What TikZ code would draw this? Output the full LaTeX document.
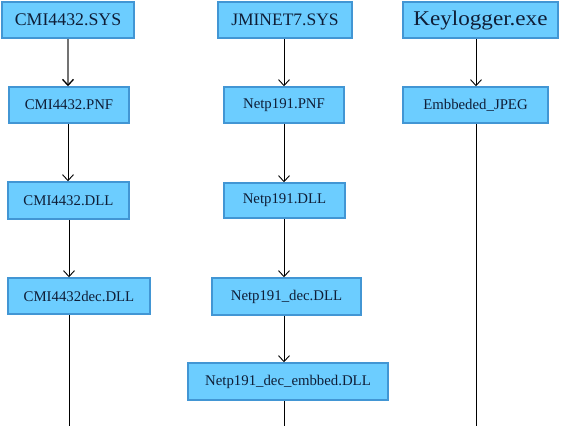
\documentclass[tikz,border=0pt]{standalone}
\usepackage{fontspec}
\setmainfont{Liberation Serif}
\newfontfamily\klfont[FakeStretch=1.1]{Liberation Serif}
\usetikzlibrary{arrows.meta}
\definecolor{boxfill}{RGB}{108,205,255}
\definecolor{boxdraw}{RGB}{66,150,212}
\definecolor{darktext}{RGB}{15,30,55}
\definecolor{greyline}{RGB}{115,115,115}
\tikzset{
  box/.style={draw=boxdraw, fill=boxfill, line width=1.5pt, inner sep=0pt, text=darktext, font=\fontsize{14.8}{16}\selectfont},
  bigbox/.style={box, font=\fontsize{17.8}{20}\selectfont},
  arr/.style={-{Straight Barb[length=6pt,width=11pt]}, line width=0.9pt},
  greyarr/.style={-{Straight Barb[length=6pt,width=11pt,color=black]}, line width=1.3pt, draw=greyline},
  tail/.style={line width=0.9pt}
}
\begin{document}
\begin{tikzpicture}[x=1pt,y=-1pt]
\useasboundingbox (0,0) rectangle (561,426);
% column 1
\node[bigbox, minimum width=132pt, minimum height=36pt] (s1) at (68,20) {CMI4432.SYS};
\node[box, minimum width=120pt, minimum height=36pt] (p1) at (69,105) {CMI4432.PNF};
\node[box, minimum width=121pt, minimum height=37pt] (d1) at (68.5,200.5) {CMI4432.DLL};
\node[box, minimum width=142pt, minimum height=36pt] (e1) at (79,296) {CMI4432dec.DLL};
% column 2
\node[bigbox, minimum width=134pt, minimum height=36pt, font=\fontsize{17.5}{20}\selectfont] (s2) at (285,20) {JMINET7.SYS};
\node[box, minimum width=120pt, minimum height=36pt] (p2) at (284,105) {Netp191.PNF};
\node[box, minimum width=121pt, minimum height=35pt] (d2) at (284.5,200.5) {Netp191.DLL};
\node[box, minimum width=149pt, minimum height=37pt] (e2) at (286.5,296.5) {Netp191\_dec.DLL};
\node[box, minimum width=200pt, minimum height=37pt] (f2) at (288,381.5) {Netp191\_dec\_embbed.DLL};
% column 3
\node[box, minimum width=155pt, minimum height=36pt, font=\klfont\fontsize{21}{24}\selectfont] (s3) at (480.5,20) {Keylogger.exe};
\node[box, minimum width=145pt, minimum height=36pt] (p3) at (475.5,105) {Embbeded\_JPEG};
% free ends
\coordinate (b1) at (69,426);
\coordinate (b2) at (284,426);
\coordinate (b3) at (476,426);
% connectors
\draw[greyarr] (68,0 |- s1.south) -- (68,0 |- p1.north);
\draw[arr] (68,0 |- p1.south) -- (68,0 |- d1.north);
\draw[arr] (69,0 |- d1.south) -- (69,0 |- e1.north);
\draw[tail] (b1 |- e1.south) -- (b1);
\draw[arr] (284,0 |- s2.south) -- (284,0 |- p2.north);
\draw[arr] (284,0 |- p2.south) -- (284,0 |- d2.north);
\draw[arr] (284,0 |- d2.south) -- (284,0 |- e2.north);
\draw[arr] (284,0 |- e2.south) -- (284,0 |- f2.north);
\draw[tail] (b2 |- f2.south) -- (b2);
\draw[arr] (476,0 |- s3.south) -- (476,0 |- p3.north);
\draw[tail] (b3 |- p3.south) -- (b3);
\end{tikzpicture}
\end{document}
